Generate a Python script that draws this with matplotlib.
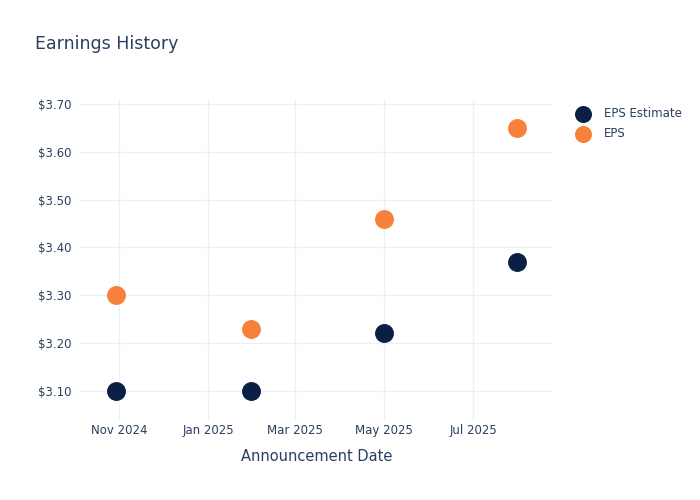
import matplotlib
matplotlib.use("Agg")
import matplotlib.pyplot as plt
import matplotlib.dates as mdates
import numpy as np
import datetime as dt

dates = ["2024-10-30", "2025-01-30", "2025-05-01", "2025-07-31"]
eps_estimate = [3.10, 3.10, 3.22, 3.37]
eps_actual = [3.30, 3.23, 3.46, 3.65]
tick_dates = ["2024-11-01", "2025-01-01", "2025-03-01", "2025-05-01", "2025-07-01"]
tick_labels = ["Nov 2024", "Jan 2025", "Mar 2025", "May 2025", "Jul 2025"]
y_ticks = [3.10, 3.20, 3.30, 3.40, 3.50, 3.60, 3.70]

text_color = "#2a3f5f"
grid_color = "#ebf0f8"
navy = "#0b1f44"
orange = "#f7803a"

x = [dt.datetime.strptime(d, "%Y-%m-%d") for d in dates]
xt = [dt.datetime.strptime(d, "%Y-%m-%d") for d in tick_dates]

fig = plt.figure(figsize=(7, 5), dpi=100)
ax = fig.add_axes([80/700, 1-421/500, (553-80)/700, (421-100)/500])

ax.scatter(x, eps_estimate, s=185, color=navy, label="EPS Estimate", zorder=3, linewidths=0)
ax.scatter(x, eps_actual, s=185, color=orange, label="EPS", zorder=3, linewidths=0)

ax.set_xlim(dt.datetime(2024, 10, 5, 12), dt.datetime(2025, 8, 24, 12))
ax.set_ylim(3.037, 3.708)
ax.set_xticks(xt)
ax.set_xticklabels(tick_labels)
ax.set_yticks(y_ticks)
ax.set_yticklabels([f"${v:.2f}" for v in y_ticks])

for s in ax.spines.values():
    s.set_visible(False)
ax.grid(True, color=grid_color, linewidth=1)
ax.set_axisbelow(True)
ax.tick_params(axis="both", length=0, labelsize=8.5, colors=text_color, pad=6)
ax.tick_params(axis="x", pad=2)

ax.set_xlabel("Announcement Date", fontsize=10.5, color=text_color, labelpad=8.5)

fig.text(35/700, 1-44/500, "Earnings History", fontsize=12.5, color=text_color, va="center", ha="left")

leg = ax.legend(loc="upper left", bbox_to_anchor=(571/700, 1-107/500), bbox_transform=fig.transFigure,
                frameon=False, fontsize=8.5, labelcolor=text_color, handletextpad=0.8,
                borderaxespad=0, labelspacing=0.6, markerscale=0.9, borderpad=0)

fig.savefig("out.png", dpi=100, facecolor="white")
